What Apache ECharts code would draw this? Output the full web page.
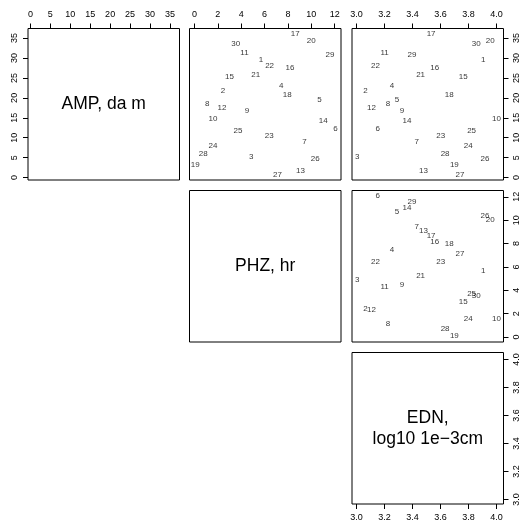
<!DOCTYPE html>
<html>
<head>
<meta charset="utf-8">
<script src="https://cdn.jsdelivr.net/npm/echarts@6/dist/echarts.min.js"></script>
<style>
  html, body { margin: 0; padding: 0; background: #ffffff; }
  #chart { width: 524px; height: 524px; }
</style>
</head>
<body>
<div id="chart"></div>
<script>
// point labels (row numbers) and the three measured variables
const ids = ['1', '2', '3', '4', '5', '6', '7', '8', '9', '10',
  '11', '12', '13', '14', '15', '16', '17', '18', '19', '20',
  '21', '22', '23', '24', '25', '26', '27', '28', '29', '30']
const amp = [29.6, 21.7, 5.1, 23.1, 19.5, 12.3, 9.1, 18.4, 16.7, 14.7,
  31.4, 17.5, 1.7, 14.2, 25.3, 27.6, 36.1, 20.7, 3.1, 34.4,
  25.8, 28.1, 10.5, 8.1, 11.7, 4.6, 0.8, 5.9, 30.8, 33.6]
const phz = [5.7, 2.45, 4.86, 7.43, 10.7, 12.06, 9.42, 1.1, 4.49, 1.58,
  4.28, 2.36, 9.07, 11.02, 3.0, 8.18, 8.63, 7.94, 0.07, 10.0,
  5.25, 6.43, 6.4, 1.58, 3.72, 10.34, 7.1, 0.75, 11.6, 3.53]
const edn = [3.905, 3.064, 3.005, 3.254, 3.289, 3.151, 3.431, 3.225, 3.325, 4.0,
  3.201, 3.107, 3.478, 3.36, 3.763, 3.559, 3.533, 3.663, 3.699, 3.955,
  3.458, 3.135, 3.602, 3.798, 3.822, 3.917, 3.739, 3.633, 3.396, 3.855]

// tick values and axis labels
const ampTicks = [0, 5, 10, 15, 20, 25, 30, 35]
const phzTicks = [0, 2, 4, 6, 8, 10, 12]
const ednTicks = [3.0, 3.2, 3.4, 3.6, 3.8, 4.0]
const varNames = ['AMP, da m', 'PHZ, hr', 'EDN,\nlog10 1e\u22123cm']

const FONT = 'Liberation Sans, Arial, sans-serif'
const ranges = {
  amp: { min: -0.6, max: 37.4, ticks: ampTicks, fmt: v => String(v) },
  phz: { min: -0.42, max: 12.54, ticks: phzTicks, fmt: v => String(v) },
  edn: { min: 2.968, max: 4.05, ticks: ednTicks, fmt: v => v.toFixed(1) }
}

// panel geometry
const colLeft = [28, 189.5, 352]
const rowTop = [28.5, 190.5, 352.5]
const size = 151.5

// [row, col, xVar, yVar, xLabelPos, yLabelPos]
const panels = [
  [0, 0, 'amp', 'amp', 'top', 'left'],
  [0, 1, 'phz', 'amp', 'top', null],
  [0, 2, 'edn', 'amp', 'top', 'right'],
  [1, 1, 'phz', 'phz', null, null],
  [1, 2, 'edn', 'phz', null, 'right'],
  [2, 2, 'edn', 'edn', 'bottom', 'right']
]

function makeAxis (v, gridIndex, pos, isY) {
  const r = ranges[v]
  const show = pos !== null
  return {
    type: 'value',
    gridIndex: gridIndex,
    min: r.min,
    max: r.max,
    position: show ? pos : (isY ? 'left' : 'bottom'),
    splitLine: { show: false },
    axisLine: { show: false, onZero: false },
    axisTick: {
      show: show,
      inside: false,
      length: 5,
      customValues: r.ticks,
      lineStyle: { color: '#000', width: 1 }
    },
    axisLabel: {
      show: show,
      customValues: r.ticks,
      formatter: r.fmt,
      color: '#000',
      fontFamily: FONT,
      fontSize: 9,
      margin: 9,
      rotate: isY ? 90 : 0
    }
  }
}

const grids = []
const xAxes = []
const yAxes = []
const graphics = []
panels.forEach((p, i) => {
  const left = colLeft[p[1]]
  const top = rowTop[p[0]]
  grids.push({
    left: left,
    top: top,
    width: size,
    height: size,
    show: true,
    borderColor: '#000',
    borderWidth: 1,
    backgroundColor: 'transparent'
  })
  xAxes.push(makeAxis(p[2], i, p[4], false))
  yAxes.push(makeAxis(p[3], i, p[5], true))
  if (p[0] === p[1]) {
    graphics.push({
      type: 'text',
      x: left + size / 2,
      y: top + size / 2,
      style: {
        text: varNames[p[0]],
        align: 'center',
        verticalAlign: 'middle',
        fontFamily: FONT,
        fontSize: 17.5,
        lineHeight: 21,
        fill: '#000'
      }
    })
  }
})

function pts (xs, ys) {
  return ids.map((id, k) => ({ name: id, value: [xs[k], ys[k]] }))
}

function labelSeries (gridIndex, data) {
  return {
    type: 'scatter',
    xAxisIndex: gridIndex,
    yAxisIndex: gridIndex,
    data: data,
    symbolSize: 1,
    itemStyle: { color: 'rgba(0,0,0,0)' },
    silent: true,
    label: {
      show: true,
      position: 'inside',
      formatter: '{b}',
      color: '#000',
      fontFamily: FONT,
      fontSize: 8
    },
    labelLayout: { hideOverlap: false }
  }
}

const chart = echarts.init(document.getElementById('chart'))
chart.setOption({
  animation: false,
  backgroundColor: '#ffffff',
  grid: grids,
  xAxis: xAxes,
  yAxis: yAxes,
  graphic: graphics,
  series: [
    labelSeries(1, pts(phz, amp)),
    labelSeries(2, pts(edn, amp)),
    labelSeries(4, pts(edn, phz))
  ]
})
</script>
</body>
</html>
